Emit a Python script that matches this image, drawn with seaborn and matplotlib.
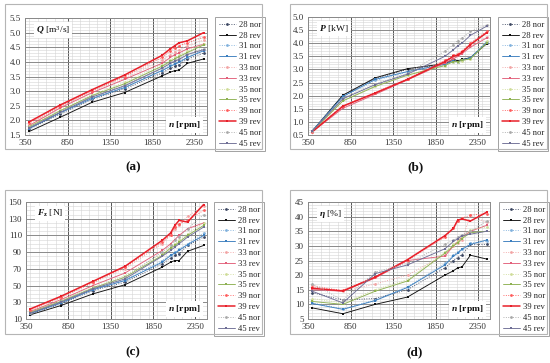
import numpy as np
import pandas as pd
import matplotlib
matplotlib.use("Agg")
import matplotlib.pyplot as plt
import matplotlib.patches as mpatches
from matplotlib.lines import Line2D
from matplotlib.ticker import MultipleLocator, FixedLocator
import seaborn as sns

# ---------------- data ----------------
series = ["28 nor", "28 rev", "31 nor", "31 rev", "33 nor", "33 rev",
          "35 nor", "35 rev", "39 nor", "39 rev", "45 nor", "45 rev"]
rpm = [400, 760, 1140, 1520, 1960, 2060, 2110, 2160, 2260, 2450]

Q = {
    "28 nor": [1.70, 2.22, 2.72, 3.08, 3.62, 3.78, 3.85, 3.90, 4.10, 4.30],
    "28 rev": [1.62, 2.10, 2.62, 2.95, 3.52, 3.65, 3.70, 3.72, 3.95, 4.10],
    "31 nor": [1.75, 2.28, 2.78, 3.15, 3.72, 3.88, 3.95, 4.02, 4.18, 4.40],
    "31 rev": [1.72, 2.25, 2.75, 3.12, 3.70, 3.85, 3.92, 3.98, 4.15, 4.38],
    "33 nor": [1.85, 2.45, 3.00, 3.45, 4.05, 4.25, 4.35, 4.40, 4.55, 4.75],
    "33 rev": [1.82, 2.42, 2.95, 3.40, 3.95, 4.15, 4.25, 4.30, 4.45, 4.60],
    "35 nor": [1.80, 2.35, 2.88, 3.30, 3.90, 4.08, 4.15, 4.22, 4.38, 4.62],
    "35 rev": [1.78, 2.32, 2.85, 3.25, 3.85, 4.02, 4.10, 4.18, 4.32, 4.58],
    "39 nor": [1.90, 2.48, 3.02, 3.50, 4.15, 4.38, 4.48, 4.55, 4.65, 4.85],
    "39 rev": [1.95, 2.52, 3.05, 3.55, 4.22, 4.45, 4.55, 4.65, 4.72, 5.00],
    "45 nor": [1.76, 2.30, 2.82, 3.20, 3.80, 3.98, 4.05, 4.12, 4.28, 4.45],
    "45 rev": [1.74, 2.27, 2.80, 3.18, 3.78, 3.95, 4.02, 4.08, 4.25, 4.42],
}
P = {
    "28 nor": [0.65, 2.00, 2.65, 3.00, 3.20, 3.35, 3.30, 3.35, 3.45, 4.00],
    "28 rev": [0.65, 2.02, 2.68, 3.03, 3.22, 3.40, 3.32, 3.38, 3.45, 3.98],
    "31 nor": [0.65, 1.95, 2.58, 2.90, 3.18, 3.30, 3.28, 3.35, 3.42, 4.05],
    "31 rev": [0.66, 1.97, 2.62, 2.92, 3.20, 3.32, 3.30, 3.36, 3.44, 4.05],
    "33 nor": [0.63, 1.58, 2.10, 2.62, 3.30, 3.45, 3.55, 3.65, 3.90, 4.25],
    "33 rev": [0.62, 1.52, 2.05, 2.60, 3.25, 3.40, 3.50, 3.60, 3.85, 4.20],
    "35 nor": [0.64, 1.82, 2.38, 2.80, 3.15, 3.30, 3.28, 3.33, 3.40, 4.10],
    "35 rev": [0.64, 1.80, 2.35, 2.78, 3.15, 3.30, 3.30, 3.35, 3.40, 4.00],
    "39 nor": [0.63, 1.62, 2.12, 2.65, 3.35, 3.55, 3.60, 3.70, 4.00, 4.45],
    "39 rev": [0.62, 1.60, 2.10, 2.62, 3.30, 3.50, 3.55, 3.65, 3.95, 4.40],
    "45 nor": [0.65, 1.90, 2.45, 2.85, 3.70, 3.95, 4.10, 4.20, 4.45, 4.70],
    "45 rev": [0.65, 1.88, 2.42, 2.82, 3.50, 3.75, 3.90, 4.00, 4.30, 4.65],
}
F = {
    "28 nor": [16, 28, 44, 54, 76, 83, 86, 88, 98, 108],
    "28 rev": [15, 26, 40, 51, 72, 78, 80, 80, 91, 98],
    "31 nor": [17, 30, 46, 57, 80, 87, 90, 94, 100, 113],
    "31 rev": [16.5, 29, 45, 56, 78, 86, 89, 92, 99, 110],
    "33 nor": [20, 35, 53, 70, 100, 110, 118, 122, 133, 145],
    "33 rev": [19, 33, 50, 65, 92, 100, 105, 110, 118, 125],
    "35 nor": [18, 32, 48, 62, 88, 96, 100, 104, 112, 125],
    "35 rev": [18, 31, 47, 60, 86, 95, 98, 102, 110, 122],
    "39 nor": [21, 36, 54, 72, 102, 111, 120, 124, 128, 140],
    "39 rev": [22, 37, 55, 73, 104, 113, 122, 128, 126, 147],
    "45 nor": [17.5, 31, 47, 60, 90, 98, 104, 108, 118, 135],
    "45 rev": [17, 30, 46, 58, 85, 92, 96, 100, 108, 120],
}
ETA = {
    "28 nor": [14.0, 11.5, 12.0, 15.0, 22.5, 25.0, 26.0, 27.0, 30.5, 30.5],
    "28 rev": [8.8, 6.8, 10.0, 12.5, 20.0, 21.5, 22.5, 22.8, 26.8, 25.5],
    "31 nor": [10.5, 8.5, 11.5, 16.0, 24.0, 27.0, 28.0, 29.0, 31.0, 31.5],
    "31 rev": [10.3, 8.3, 11.3, 15.8, 23.5, 26.5, 27.5, 28.8, 30.5, 32.0],
    "33 nor": [16.5, 14.5, 17.0, 20.0, 27.0, 30.0, 31.0, 32.0, 40.5, 38.0],
    "33 rev": [15.0, 14.5, 19.0, 25.0, 26.5, 30.0, 31.5, 33.0, 35.0, 37.0],
    "35 nor": [12.0, 10.5, 15.0, 18.5, 28.0, 30.5, 31.5, 33.0, 35.5, 36.5],
    "35 rev": [11.0, 10.0, 14.5, 18.0, 27.5, 30.0, 31.0, 32.5, 34.5, 35.0],
    "39 nor": [16.0, 14.8, 19.5, 25.0, 33.0, 36.0, 38.5, 39.5, 40.5, 41.0],
    "39 rev": [15.5, 14.6, 19.3, 25.3, 33.5, 36.0, 38.8, 39.2, 38.5, 41.5],
    "45 nor": [17.0, 11.5, 21.0, 24.0, 30.5, 32.0, 33.0, 33.8, 35.0, 38.5],
    "45 rev": [14.5, 10.5, 20.5, 23.5, 29.0, 31.5, 32.5, 33.5, 34.0, 35.0],
}

x_ticks = [350, 850, 1350, 1850, 2350]

# ---------------- styles ----------------
palette = {
    "28 nor": "#3a4560", "28 rev": "#111111",
    "31 nor": "#7fb0dc", "31 rev": "#3c7fbf",
    "33 nor": "#f2a3a3", "33 rev": "#e2607a",
    "35 nor": "#cfdc98", "35 rev": "#8eb152",
    "39 nor": "#ff5a5a", "39 rev": "#e8202a",
    "45 nor": "#a8a8a8", "45 rev": "#6f6f96",
}
markers = {s: ("s" if s.endswith("rev") else "o") for s in series}
widths = {s: (1.1 if s == "39 rev" else 0.65) for s in series}

sns.set_theme(style="white")
plt.rcParams["font.family"] = ["Liberation Serif", "DejaVu Serif"]
plt.rcParams["mathtext.fontset"] = "custom"
plt.rcParams["mathtext.rm"] = "Liberation Serif"
plt.rcParams["mathtext.it"] = "Liberation Serif:italic"
plt.rcParams["mathtext.bf"] = "Liberation Serif:bold"
plt.rcParams["mathtext.bfit"] = "Liberation Serif:italic:bold"

fig = plt.figure(figsize=(5.5, 3.63), dpi=100)
W, H = 550.0, 363.0


def fbox(l, t, r, b):
    return [l / W, 1 - b / H, (r - l) / W, (b - t) / H]


panels = [
    dict(data=Q, ax=(25, 18, 207, 135), box=(5, 4, 262, 149), leg=(215, 17),
         ylim=(1.5, 5.5), major=0.5, minor=0.1, fmt="{:.1f}",
         ylab=r"$\mathbfit{Q}$ [m$^3$/s]", tag="(a)", tagxy=(133, 167)),
    dict(data=P, ax=(308, 17, 490, 135), box=(290, 4, 547, 149), leg=(498, 17),
         ylim=(0.5, 5.0), major=0.5, minor=0.1, fmt="{:.1f}",
         ylab=r"$\mathbfit{P}$ [kW]", tag="(b)", tagxy=(415, 167)),
    dict(data=F, ax=(26, 202, 207, 319), box=(5, 190, 262, 334), leg=(214, 202),
         ylim=(10, 150), major=20, minor=5, fmt="{:.0f}",
         ylab=r"$\mathbfit{F}_\mathbf{z}$ [N]", tag="(c)", tagxy=(133, 352)),
    dict(data=ETA, ax=(308, 202, 490, 319), box=(290, 190, 547, 334), leg=(499, 202),
         ylim=(5, 45), major=5, minor=1, fmt="{:.0f}",
         ylab=r"$\mathbfit{\eta}$ [%]", tag="(d)", tagxy=(415, 352)),
]

for p in panels:
    # outer frame
    l, t, r, b = p["box"]
    fig.patches.append(mpatches.Rectangle((l / W, 1 - b / H), (r - l) / W, (b - t) / H,
                                          transform=fig.transFigure, fill=False,
                                          edgecolor="#b5b5b5", linewidth=0.8))
    ax = fig.add_axes(fbox(*p["ax"]))
    rows = []
    for s in series:
        for xv, yv in zip(rpm, p["data"][s]):
            rows.append((s, xv, yv))
    df = pd.DataFrame(rows, columns=["series", "rpm", "val"])
    for s in series:
        sns.lineplot(data=df[df.series == s], x="rpm", y="val", ax=ax,
                     color=palette[s], estimator=None, sort=False,
                     linewidth=widths[s], marker=markers[s], markersize=2.0,
                     markeredgewidth=0, legend=False,
                     linestyle=(":" if s.endswith("nor") else "-"))
    ax.set_xlim(350, 2490)
    ax.set_ylim(*p["ylim"])
    ax.xaxis.set_major_locator(FixedLocator(x_ticks))
    ax.xaxis.set_minor_locator(MultipleLocator(100))
    ax.yaxis.set_major_locator(MultipleLocator(p["major"]))
    ax.yaxis.set_minor_locator(MultipleLocator(p["minor"]))
    yt = np.arange(p["ylim"][0], p["ylim"][1] + 1e-9, p["major"])
    ax.set_yticks(yt)
    ax.set_yticklabels([p["fmt"].format(v) for v in yt])
    ax.set_xticklabels([str(v) for v in x_ticks])
    ax.grid(which="major", axis="x", color="#555555", linewidth=0.7)
    ax.grid(which="major", axis="y", color="#8a8a8a", linewidth=0.7)
    ax.grid(which="minor", color="#d4d4d4", linewidth=0.4)
    ax.set_axisbelow(True)
    ax.tick_params(which="both", length=0, labelsize=6.5, colors="#333333", pad=3)
    for sp in ax.spines.values():
        sp.set_color("#8a8a8a")
        sp.set_linewidth(0.7)
    ax.set_xlabel("")
    ax.set_ylabel("")
    ax.text(0.06, 0.90, p["ylab"], transform=ax.transAxes, fontsize=6.8,
            ha="left", va="center", color="#111111", zorder=5,
            bbox=dict(facecolor="white", edgecolor="none", pad=1.5))
    ax.text(0.965, 0.085, r"$\mathbfit{n}$ [rpm]", transform=ax.transAxes, fontsize=6.8,
            ha="right", va="center", color="#111111", zorder=5, fontweight="bold",
            bbox=dict(facecolor="white", edgecolor="none", pad=1.5))
    handles = [Line2D([0], [0], color=palette[s], linewidth=widths[s],
                      linestyle=(":" if s.endswith("nor") else "-"),
                      marker=markers[s], markersize=2.0, markeredgewidth=0)
               for s in series]
    lx, ly = p["leg"]
    leg = ax.legend(handles, series, loc="upper left",
                    bbox_to_anchor=(lx / W, 1 - ly / H), bbox_transform=fig.transFigure,
                    fontsize=6.2, frameon=True, fancybox=False, edgecolor="#8a8a8a",
                    labelspacing=0.32, handlelength=2.0, handletextpad=0.3,
                    borderpad=0.45, borderaxespad=0)
    leg.get_frame().set_linewidth(0.7)
    fig.text(p["tagxy"][0] / W, 1 - p["tagxy"][1] / H, p["tag"], ha="center",
             va="center", fontsize=9.5, fontweight="bold", color="#111111")

fig.savefig("out.png", dpi=100, facecolor="white")
